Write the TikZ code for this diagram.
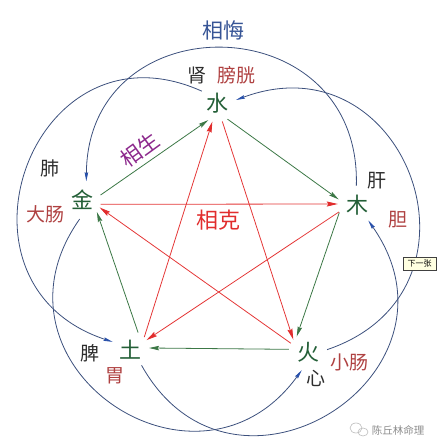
\documentclass[tikz,border=0pt]{standalone}
\usepackage{fontspec}
\setmainfont{Noto Sans CJK SC}
\usetikzlibrary{arrows.meta}
\definecolor{elemgreen}{RGB}{35,95,55}
\definecolor{linegreen}{RGB}{60,120,70}
\definecolor{linered}{RGB}{228,55,55}
\definecolor{arcblue}{RGB}{60,80,125}
\definecolor{tipblue}{RGB}{40,80,170}
\definecolor{huiblue}{RGB}{55,85,150}
\definecolor{shengpurple}{RGB}{140,40,140}
\definecolor{kered}{RGB}{225,45,45}
\definecolor{organred}{RGB}{175,65,65}
\definecolor{organblack}{RGB}{45,45,45}
\definecolor{boxyellow}{RGB}{255,255,225}
\definecolor{wmgray}{RGB}{140,140,140}
\begin{document}
\begin{tikzpicture}[x=1pt,y=-1pt,
  elem/.style={circle,minimum size=38pt,inner sep=0pt,text=elemgreen,font=\fontsize{22}{22}\selectfont},
  organ/.style={inner sep=0pt,text=organblack,font=\fontsize{19}{19}\selectfont},
  fu/.style={organ,text=organred},
  title/.style={inner sep=0pt,font=\fontsize{21}{21}\selectfont},
  sheng/.style={draw=linegreen,line width=0.8pt,-{Stealth[length=10pt,width=4.5pt,inset=1.5pt,color=linegreen]}},
  ke/.style={draw=linered,line width=0.8pt,-{Stealth[length=11pt,width=5pt,inset=1.5pt,color=kered]}},
  hui/.style={draw=arcblue,line width=0.8pt,-{Stealth[length=9pt,width=3.5pt,inset=1pt,color=tipblue]}}
]
\useasboundingbox (0,0) rectangle (438,447);

% elements
\node[elem] (shui) at (217,103) {水};
\node[elem] (jin)  at (82,200)  {金};
\node[elem] (mu)   at (357,205) {木};
\node[elem] (tu)   at (130,350) {土};
\node[elem] (huo)  at (308,352) {火};

% titles
\node[title,text=huiblue] (xianghui) at (223,30) {相悔};
\node[title,text=shengpurple,rotate=36] (xiangsheng) at (140,150) {相生};
\node[title,text=kered,font=\fontsize{22}{22}\selectfont] (xiangke) at (218,220) {相克};

% organs
\node[organ] (shen) at (197,75) {肾};
\node[fu] (pangguang) at (236,75) {膀胱};
\node[organ] (fei) at (50,168) {肺};
\node[fu] (dachang) at (46,214) {大肠};
\node[organ] (gan) at (377,181) {肝};
\node[fu] (dan) at (398,220) {胆};
\node[organ] (pi) at (90,353) {脾};
\node[fu] (wei) at (115,376) {胃};
\node[organ] (xin) at (316,378) {心};
\node[fu] (xiaochang) at (349,362) {小肠};

% generation (green)
\draw[sheng] (jin.15.5) -- (shui.243.4);
\draw[sheng] (shui.303.7) -- (mu.163);
\draw[sheng] (mu.203.6) -- (huo.126);
\draw[sheng] (huo.172) -- (tu.6.3);
\draw[sheng] (tu.65) -- (jin.321);

% overcoming (red)
\draw[ke] (jin.347.5) -- (mu.177.4);
\draw[ke] (mu.201.8) -- (tu.31);
\draw[ke] (tu.42) -- (shui.256.8);
\draw[ke] (shui.286.4) -- (huo.140.5);
\draw[ke] (huo.153.4) -- (jin.337);

% insulting (blue arcs)
\draw[hui] (mu.92.6) to[out=88.3, in=89.6, distance=180.6pt] (jin.77);
\draw[hui] (shui.142.4) to[out=155.8, in=161.7, distance=185.5pt] (tu.155.6);
\draw[hui] (huo.7.8) to[out=18.7, in=20.4, distance=182.5pt] (shui.9.5);
\draw[hui] (tu.307.6) to[out=299.2, in=305, distance=188pt] (mu.306.3);
\draw[hui] (jin.263) to[out=234.7, in=234, distance=178.7pt] (huo.251);

% next button
\node[draw=black!75,fill=boxyellow,inner sep=0pt,minimum width=33pt,minimum height=13pt,font=\fontsize{8}{8}\selectfont] (xiayi) at (419.5,263.5) {下一张};

% watermark
\draw[wmgray!60,line width=0.6pt] (356,428) ellipse [x radius=6pt, y radius=5pt];
\draw[wmgray!60,line width=0.6pt] (363,432) ellipse [x radius=5pt, y radius=4pt];
\node[inner sep=0pt,text=wmgray,font=\fontsize{10.5}{10.5}\selectfont] (wm) at (398,430) {陈丘林命理};
\end{tikzpicture}
\end{document}
